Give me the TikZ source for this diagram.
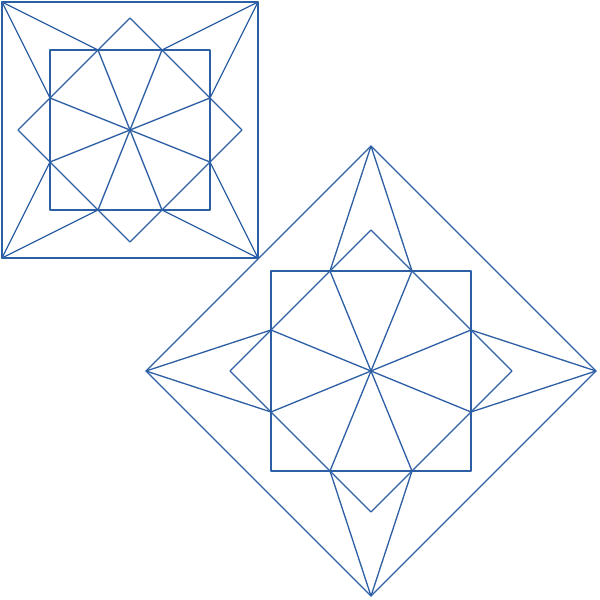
\documentclass[tikz,border=0pt]{standalone}
\usepackage{tikz}
\definecolor{linecol}{RGB}{45,95,165}
\tikzstyle{edge} = [draw=linecol, line width=0.75pt, line join=round]

\begin{document}
\begin{tikzpicture}[x=0.02cm, y=-0.02cm]
		\useasboundingbox (0,0) rectangle (600,600);
		% upright figure
		\begin{scope}[shift={(130,130)}]
		\coordinate(c1) at (0,0);
		\coordinate(ca) at (-128,-128);
		\coordinate(cb) at (128,-128);
		\coordinate(cc) at (128,128);
		\coordinate(cd) at (-128,128);
		\coordinate(a1) at (-32,-80);
		\coordinate(a2) at (32,-80);
		\coordinate(a3) at (80,-32);
		\coordinate(a4) at (80,32);
		\coordinate(a5) at (32,80);
		\coordinate(a6) at (-32,80);
		\coordinate(a7) at (-80,32);
		\coordinate(a8) at (-80,-32);
		\draw[edge] (ca) rectangle (cc);
		\draw[edge] (-80,-80) rectangle (80,80);
		\draw[edge] (0,-112) -- (112,0) -- (0,112) -- (-112,0) -- cycle;
		\draw[edge] (a1) -- (ca) -- (a8);
		\draw[edge] (a2) -- (cb) -- (a3);
		\draw[edge] (a4) -- (cc) -- (a5);
		\draw[edge] (a6) -- (cd) -- (a7);
		\foreach \i/\j in {1/5,2/6,3/7,4/8}
			\draw[edge] (a\i) -- (c1) -- (a\j);
		\end{scope}
		% turned figure
		\begin{scope}[shift={(371,371)}]
		\coordinate(c2) at (0,0);
		\coordinate(vt) at (0,-225);
		\coordinate(vr) at (225,0);
		\coordinate(vb) at (0,225);
		\coordinate(vl) at (-225,0);
		\coordinate(b1) at (-41,-100);
		\coordinate(b2) at (41,-100);
		\coordinate(b3) at (100,-41);
		\coordinate(b4) at (100,41);
		\coordinate(b5) at (41,100);
		\coordinate(b6) at (-41,100);
		\coordinate(b7) at (-100,41);
		\coordinate(b8) at (-100,-41);
		\draw[edge] (vt) -- (vr) -- (vb) -- (vl) -- cycle;
		\draw[edge] (-100,-100) rectangle (100,100);
		\draw[edge] (0,-141) -- (141,0) -- (0,141) -- (-141,0) -- cycle;
		\draw[edge] (b1) -- (vt) -- (b2);
		\draw[edge] (b3) -- (vr) -- (b4);
		\draw[edge] (b5) -- (vb) -- (b6);
		\draw[edge] (b7) -- (vl) -- (b8);
		\foreach \i/\j in {1/5,2/6,3/7,4/8}
			\draw[edge] (b\i) -- (c2) -- (b\j);
		\end{scope}
\end{tikzpicture}
\end{document}
